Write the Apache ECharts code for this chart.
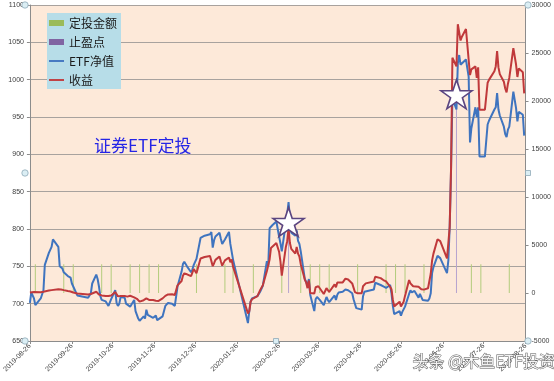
<!DOCTYPE html>
<html><head><meta charset="utf-8">
<script src="https://cdn.jsdelivr.net/npm/echarts@6/dist/echarts.min.js"></script>
<style>html,body{margin:0;padding:0;background:#fff}#c{width:554px;height:381px}</style>
</head><body><div id="c"></div>
<script>
const dates = ['2019-08-26','2019-08-27','2019-08-29','2019-08-30','2019-09-03','2019-09-05','2019-09-06','2019-09-09','2019-09-11','2019-09-12',
'2019-09-16','2019-09-17','2019-09-18','2019-09-19','2019-09-20','2019-09-23','2019-09-25','2019-09-26','2019-09-27','2019-09-30',
'2019-10-08','2019-10-10','2019-10-11','2019-10-14','2019-10-15','2019-10-16','2019-10-17','2019-10-18','2019-10-21','2019-10-22',
'2019-10-23','2019-10-25','2019-10-28','2019-10-29','2019-10-30','2019-10-31','2019-11-01','2019-11-04','2019-11-05','2019-11-06',
'2019-11-08','2019-11-11','2019-11-12','2019-11-13','2019-11-14','2019-11-15','2019-11-18','2019-11-19','2019-11-20','2019-11-21',
'2019-11-22','2019-11-25','2019-11-27','2019-11-28','2019-11-29','2019-12-02','2019-12-04','2019-12-05','2019-12-06','2019-12-09',
'2019-12-11','2019-12-12','2019-12-13','2019-12-16','2019-12-17','2019-12-18','2019-12-19','2019-12-20','2019-12-23','2019-12-24',
'2019-12-25','2019-12-26','2019-12-27','2019-12-30','2019-12-31','2020-01-02','2020-01-03','2020-01-06','2020-01-07','2020-01-08',
'2020-01-09','2020-01-10','2020-01-13','2020-01-14','2020-01-15','2020-01-16','2020-01-17','2020-01-20','2020-01-21','2020-01-22',
'2020-01-23','2020-02-03','2020-02-04','2020-02-05','2020-02-06','2020-02-07','2020-02-10','2020-02-11','2020-02-12','2020-02-13',
'2020-02-14','2020-02-17','2020-02-18','2020-02-19','2020-02-20','2020-02-21','2020-02-24','2020-02-25','2020-02-26','2020-02-27',
'2020-02-28','2020-03-02','2020-03-03','2020-03-04','2020-03-05','2020-03-06','2020-03-09','2020-03-10','2020-03-11','2020-03-12',
'2020-03-13','2020-03-16','2020-03-17','2020-03-18','2020-03-19','2020-03-20','2020-03-23','2020-03-24','2020-03-25','2020-03-26',
'2020-03-27','2020-03-30','2020-03-31','2020-04-01','2020-04-02','2020-04-03','2020-04-07','2020-04-08','2020-04-09','2020-04-10',
'2020-04-13','2020-04-14','2020-04-15','2020-04-16','2020-04-17','2020-04-20','2020-04-21','2020-04-22','2020-04-23','2020-04-24',
'2020-04-27','2020-04-28','2020-04-29','2020-04-30','2020-05-06','2020-05-07','2020-05-08','2020-05-11','2020-05-12','2020-05-13',
'2020-05-14','2020-05-15','2020-05-18','2020-05-19','2020-05-20','2020-05-21','2020-05-22','2020-05-25','2020-05-26','2020-05-27',
'2020-05-28','2020-05-29','2020-06-01','2020-06-02','2020-06-03','2020-06-04','2020-06-05','2020-06-08','2020-06-09','2020-06-10',
'2020-06-11','2020-06-12','2020-06-15','2020-06-16','2020-06-17','2020-06-18','2020-06-19','2020-06-22','2020-06-23','2020-06-24',
'2020-06-29','2020-06-30','2020-07-01','2020-07-02','2020-07-03','2020-07-06','2020-07-07','2020-07-08','2020-07-09','2020-07-10',
'2020-07-13','2020-07-14','2020-07-15','2020-07-16','2020-07-17','2020-07-20','2020-07-21','2020-07-22','2020-07-23','2020-07-24',
'2020-07-27','2020-07-28','2020-07-29','2020-07-30','2020-07-31','2020-08-03','2020-08-04','2020-08-05','2020-08-06','2020-08-07',
'2020-08-10','2020-08-11','2020-08-12','2020-08-13','2020-08-14','2020-08-17','2020-08-18','2020-08-19','2020-08-20','2020-08-21',
'2020-08-24','2020-08-25'];

const nav = [701,715,707,698,707,718,752,768,776,786,
776,750,752,747,742,737,735,727,729,711,
708,714,727,739,733,723,710,705,703,705,
697,706,718,701,697,700,709,708,700,700,
696,705,690,685,680,677,683,680,692,685,
683,681,684,678,677,683,697,699,701,700,
697,698,723,743,753,756,754,750,742,746,
752,750,760,788,790,791,792,793,796,775,
785,790,795,787,780,778,786,796,780,778,
759,674,690,703,707,706,710,709,716,715,
724,757,750,801,802,805,810,811,790,781,
770,808,820,836,815,795,791,798,784,780,
770,733,729,724,733,712,690,706,709,707,
705,698,698,709,705,702,711,705,712,715,
716,718,719,718,718,714,706,700,694,693,
692,710,716,716,719,728,727,725,724,723,
722,721,725,714,697,686,686,690,684,689,
687,696,713,718,715,714,717,708,713,711,
705,704,704,707,714,741,749,764,765,761,
741,758,803,880,975,960,1022,1033,1020,1020,
1027,1027,1004,916,935,963,950,963,897,897,
897,897,940,945,947,960,963,982,960,952,
937,927,923,933,937,984,982,962,944,957,
953,925];

const profit = [50,100,100,100,90,130,150,250,300,350,
390,380,370,320,300,200,150,80,50,-50,
-150,-100,30,130,50,-150,-200,-250,-310,-320,
-310,-250,100,-100,-350,-400,-300,-300,-350,-380,
-290,-450,-550,-600,-800,-900,-750,-700,-560,-650,
-720,-730,-800,-880,-830,-560,-300,-230,-150,-140,
-200,-200,800,1250,1800,2050,2000,1950,1750,1900,
2500,2300,2050,3600,3650,3750,3800,3850,3800,2800,
3100,3450,3800,3300,2850,2900,3400,3700,3200,3500,
2750,-2120,-1900,-900,-650,-500,-320,-400,300,250,
800,2300,2200,3500,4700,4750,5200,5000,4300,3300,
1800,4800,5400,6800,5200,4600,4100,4800,4100,3800,
3000,1400,1100,500,1300,0,-50,600,800,700,
500,-100,-200,500,300,100,900,600,1100,1300,
1100,1300,1500,1400,1400,1000,800,100,-30,-30,
-30,700,900,1000,1200,1700,1880,1550,1400,1350,
1250,1200,650,400,-700,-1400,-1450,-900,-1400,-1350,
-900,-300,1350,1000,850,700,650,650,600,400,
300,350,500,660,2000,3400,4100,5600,5700,5400,
3600,5200,6900,13000,24500,23600,28000,28000,26300,26700,
27500,27500,24300,22700,23300,23600,22400,23500,19100,19100,
19100,19100,21900,22200,22300,23100,23600,25200,23500,22800,
22000,21300,20900,21800,22400,25500,25400,23800,22500,23400,
23000,20800];

const buyDates = ['2019-08-30','2019-09-20','2019-09-27','2019-10-18','2019-10-25','2019-11-08','2019-11-15','2019-11-22','2019-11-29','2019-12-27',
'2020-01-17','2020-01-23','2020-02-07','2020-02-28','2020-03-13','2020-03-20','2020-03-27','2020-04-03','2020-04-24','2020-05-15',
'2020-05-22','2020-05-29','2020-06-12','2020-07-17','2020-07-24','2020-08-14'];
const buyAmounts = [3000,3000,3000,3000,3000,3000,3000,3000,3000,3000,
3000,3000,3000,3000,3000,3000,3000,3000,3000,3000,
3000,3000,3000,3000,3000,3000];

const stopDates = ['2020-03-04','2020-07-06'];
const stopValues = [7400, 20700];

const tickDates = ['2019-08-26','2019-09-26','2019-10-26','2019-11-26','2019-12-26','2020-01-26','2020-02-26',
'2020-03-26','2020-04-26','2020-05-26','2020-06-26','2020-07-26','2020-08-26'];
const leftTicks = [650,700,750,800,850,900,950,1000,1050,1100];
const rightTicks = [-5000,0,5000,10000,15000,20000,25000,30000];

const seriesNames = ['定投金额','止盈点','ETF净值','收益'];
const titleText = '证券ETF定投';
const watermarkText = '头条 @木鱼ETF投资';

const START = Date.UTC(2019,7,26);
function dayIndex(s){const p=s.split('-').map(Number);return Math.round((Date.UTC(p[0],p[1]-1,p[2])-START)/86400000);}
const tickIdx = tickDates.map(dayIndex);
const labelByIdx = {}; tickIdx.forEach((d,i)=>labelByIdx[d]=tickDates[i]);

const navData = dates.map((d,i)=>[dayIndex(d), nav[i]]);
const profitData = dates.map((d,i)=>[dayIndex(d), profit[i]]);
const buyData = buyDates.map((d,i)=>[dayIndex(d), buyAmounts[i]]);
const stopData = stopDates.map((d,i)=>[dayIndex(d), stopValues[i]]);

const STAR = 'path://M50,0 L61.2,34.5 L97.6,34.5 L68.2,55.9 L79.4,90.5 L50,69.1 L20.6,90.5 L31.8,55.9 L2.4,34.5 L38.8,34.5 Z';
const LINE_ICON = 'path://M0,0 L16,0 L16,2 L0,2 Z';
const axisFont = 'Liberation Sans, Arial, sans-serif';
const cjkFont = 'Noto Sans CJK SC, sans-serif';

const chart = echarts.init(document.getElementById('c'), null, {renderer:'canvas'});

function handle(x,y,square){
  return square ? {type:'rect', shape:{x:x-2.5,y:y-2.5,width:5,height:5}, style:{fill:'#dbeef4',stroke:'#8fa9b8',lineWidth:0.8}, z:100}
                : {type:'circle', shape:{cx:x,cy:y,r:3.2}, style:{fill:'#dbeef4',stroke:'#8fa9b8',lineWidth:0.8}, z:100};
}
const plain = v => String(v);

chart.setOption({
  backgroundColor:'#ffffff',
  animation:false,
  grid:{left:25,right:26,top:5,bottom:40,show:true,backgroundColor:'#fde9d9',borderWidth:0},
  legend:{
    orient:'vertical', left:47, top:13,
    backgroundColor:'#b7dde8', borderWidth:0,
    padding:[3,4,2,2], itemGap:5, itemWidth:15, itemHeight:6,
    textStyle:{fontFamily:cjkFont,fontSize:12,color:'#1a1a1a',lineHeight:14},
    data:[{name:seriesNames[0],icon:'rect',itemStyle:{color:'#9bbb59'}},
          {name:seriesNames[1],icon:'rect',itemStyle:{color:'#8064a2'}},
          {name:seriesNames[2],icon:LINE_ICON},{name:seriesNames[3],icon:LINE_ICON}],
    selectedMode:false
  },
  xAxis:{
    type:'value', min:0, max:dayIndex(tickDates[tickDates.length-1]),
    axisLine:{show:true,onZero:false,lineStyle:{color:'#8c8c8c',width:1}},
    axisTick:{show:true,length:3,customValues:tickIdx,lineStyle:{color:'#8c8c8c'}},
    splitLine:{show:false},
    axisLabel:{customValues:tickIdx,rotate:45,fontSize:7,color:'#404040',fontFamily:axisFont,margin:4,
      formatter:(v)=>labelByIdx[Math.round(v)]||''}
  },
  yAxis:[
    {type:'value', min:leftTicks[0], max:leftTicks[leftTicks.length-1], interval:leftTicks[1]-leftTicks[0],
     axisLine:{show:true,lineStyle:{color:'#8c8c8c'}},
     axisTick:{show:true,length:3,lineStyle:{color:'#8c8c8c'}},
     splitLine:{show:true,lineStyle:{color:'#a8a29e',width:1}},
     axisLabel:{fontSize:7,color:'#404040',fontFamily:axisFont,margin:6,formatter:plain}},
    {type:'value', position:'right', min:rightTicks[0], max:rightTicks[rightTicks.length-1], interval:rightTicks[1]-rightTicks[0],
     axisLine:{show:true,lineStyle:{color:'#8c8c8c'}},
     axisTick:{show:true,length:3,lineStyle:{color:'#8c8c8c'}},
     splitLine:{show:false},
     axisLabel:{fontSize:7,color:'#404040',fontFamily:axisFont,margin:6,formatter:plain}}
  ],
  series:[
    {name:seriesNames[0], type:'bar', yAxisIndex:1, data:buyData, barWidth:1, itemStyle:{color:'#b3cc7c'}, z:2},
    {name:seriesNames[1], type:'bar', yAxisIndex:1, data:stopData, barWidth:1, barGap:'-100%', itemStyle:{color:'#b7a3cf'}, z:2},
    {name:seriesNames[2], type:'line', yAxisIndex:0, data:navData, symbol:'none', lineStyle:{color:'#3f74bf',width:2}, itemStyle:{color:'#3f74bf'}, z:3},
    {name:seriesNames[3], type:'line', yAxisIndex:1, data:profitData, symbol:'none', lineStyle:{color:'#c0393b',width:2}, itemStyle:{color:'#c0393b'}, z:4},
    {name:'止盈标记', type:'scatter', yAxisIndex:1, data:stopData, symbol:STAR, symbolSize:[31,29],
     itemStyle:{color:'#ffffff',borderColor:'#5b4580',borderWidth:1.6,opacity:1}, z:6}
  ],
  graphic:[
    {type:'text', left:94, top:137, style:{text:titleText, font:'17px "Noto Sans CJK SC", sans-serif', fill:'#2525e6'}, z:50},
    {type:'text', left:412, top:352, style:{text:watermarkText, font:'16px "Noto Sans CJK SC", sans-serif', fill:'rgba(255,255,255,0.9)', stroke:'#555555', lineWidth:0.9}, z:60},
    handle(25,5), handle(25,173), handle(25,341), handle(276,341,true), handle(528,5), handle(528,173,true), handle(528,341)
  ]
});
</script></body></html>
